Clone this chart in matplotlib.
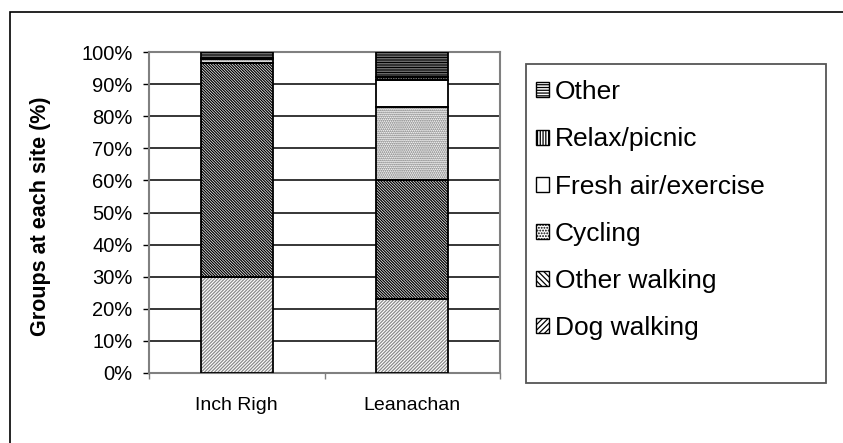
import matplotlib
matplotlib.use('Agg')
import numpy as np
from matplotlib import pyplot as plt
from matplotlib.patches import Rectangle, Patch

plt.rcParams['font.family'] = ['Liberation Sans', 'DejaVu Sans']
plt.rcParams['hatch.linewidth'] = 0.9

# data (percent of groups at each site)
sites = ['Inch Righ', 'Leanachan']
activities = ['Dog walking', 'Other walking', 'Cycling',
              'Fresh air/exercise', 'Relax/picnic', 'Other']
dog_walking = [30.0, 23.0]
other_walking = [66.6, 37.0]
cycling = [1.1, 23.0]
fresh_air = [0.0, 8.3]
relax_picnic = [0.3, 0.9]
other = [2.0, 7.8]
yticks = [0, 10, 20, 30, 40, 50, 60, 70, 80, 90, 100]

series = [dog_walking, other_walking, cycling, fresh_air, relax_picnic, other]
# hatch pattern and hatch colour for each series
styles = [
    ('/' * 10, '#8a8a8a'),
    ('\\' * 12, 'black'),
    ('.' * 8, '#666666'),
    ('', 'black'),
    ('|' * 10, 'black'),
    ('-' * 10, 'black'),
]

W, H = 843, 443
fig = plt.figure(figsize=(W / 100, H / 100), dpi=100)

# outer chart frame
fig.add_artist(Rectangle((10 / W, -0.2), 1.2, 1.2 - 12 / H, transform=fig.transFigure,
                         fill=False, edgecolor='black', lw=1.2))

ax = fig.add_axes([149 / W, 1 - 373 / H, 351 / W, 321 / H])
x = np.arange(len(sites))
width = 0.41
bottom = np.zeros(len(sites))
for vals, (hatch, hcol) in zip(series, styles):
    vals = np.array(vals)
    ax.bar(x, vals, width, bottom=bottom, facecolor='white', edgecolor=hcol,
           hatch=hatch, lw=0, zorder=3)
    ax.bar(x, vals, width, bottom=bottom, fill=False, edgecolor='black',
           lw=1.3, zorder=4)
    bottom += vals

ax.set_xlim(-0.5, 1.5)
ax.set_ylim(0, 100)
ax.set_yticks(yticks)
ax.set_yticklabels([f'{v}%' for v in yticks])
ax.yaxis.grid(True, color='black', lw=1.1, zorder=0)
ax.set_axisbelow(True)
ax.tick_params(axis='y', length=4.3, width=1, color='black', pad=7.5, labelsize=14.5)
ax.set_xticks(x)
ax.set_xticklabels(sites)
ax.set_xticks([-0.5, 0.5, 1.5], minor=True)
ax.tick_params(axis='x', which='major', length=0, pad=17, labelsize=14)
ax.tick_params(axis='x', which='minor', length=4.3, width=1, color='#808080')
for s in ax.spines.values():
    s.set_color('#808080')
    s.set_linewidth(1.5)

fig.text(41 / W, 1 - 216 / H, 'Groups at each site (%)', rotation=90,
         ha='center', va='center', fontsize=15.5, fontweight='bold')

# legend box
fig.add_artist(Rectangle((526 / W, 1 - 383 / H), 300 / W, 319 / H,
                         transform=fig.transFigure, facecolor='white',
                         edgecolor='#555555', lw=1.3))
handles = [Patch(facecolor='white', edgecolor='black', hatch=h[:6], lw=1)
           for h, _ in styles]
leg = fig.legend(handles[::-1], activities[::-1], loc='upper left',
                 bbox_to_anchor=(523 / W, 1 - 67 / H), frameon=False,
                 fontsize=19, handlelength=0.5, handleheight=0.5,
                 handletextpad=0.2, labelspacing=0.88, borderpad=0)

fig.savefig('out.png', dpi=100)
